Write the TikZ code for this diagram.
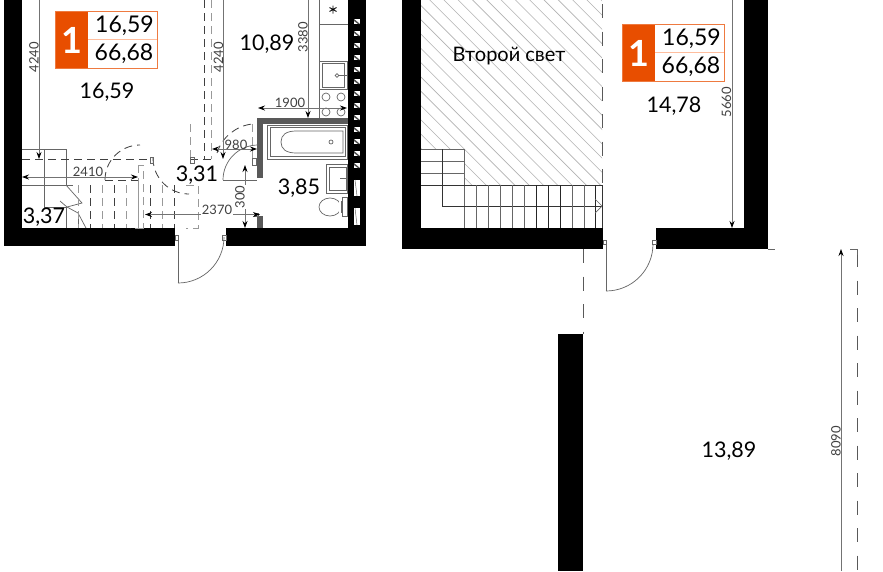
\documentclass[tikz,border=0pt]{standalone}
\usepackage{fontspec}
\setmainfont{Lato}
\usetikzlibrary{arrows.meta}
\definecolor{accent}{HTML}{E84E00}
\definecolor{accentlight}{HTML}{FFBE9E}
\tikzset{
 x=1pt,y=-1pt,
 wall/.style={fill=black,draw=none},
 grayw/.style={fill=black!65,draw=none},
 thin line/.style={draw=black!60,line width=.7pt},
 dark line/.style={draw=black!80,line width=.7pt},
 dim/.style={draw=black!55,line width=.8pt},
 dimhead/.style={-{Stealth[length=7pt,width=5pt,black]}},
 dimheads/.style={{Stealth[length=7pt,width=5pt,black]}-{Stealth[length=7pt,width=5pt,black]}},
 dimlabel/.style={font=\fontsize{13}{14}\selectfont,text=black!75,inner sep=0pt},
 area/.style={font=\fontsize{21.5}{22}\selectfont,inner sep=0pt},
 badgetext/.style={font=\fontsize{23}{24}\selectfont,inner sep=0pt},
 hidden/.style={draw=black!75,line width=.8pt,dash pattern=on 8pt off 5pt},
 hiddengray/.style={draw=black!40,line width=.8pt,dash pattern=on 8pt off 5pt},
 longdash/.style={draw=black!65,line width=.9pt,dash pattern=on 14pt off 13.5pt},
 hatch/.style={draw=black!30,line width=.6pt},
}
\newcommand{\badge}[5]{%
 \fill[accent] (#1,#2) rectangle (#1+33,#2+57);
 \draw[accent!75!white,line width=.9pt] (#1,#2) rectangle (#1+102,#2+57);
 \draw[accentlight,line width=.9pt] (#1+33,#2+28) -- (#1+102,#2+28);
 \node[font=\fontsize{36}{37}\fontseries{b}\selectfont,text=white,inner sep=0pt] (#3a) at (#1+16.5,#2+29) {1};
 \node[badgetext] (#3b) at (#1+69.5,#2+14.5) {#4};
 \node[badgetext] (#3c) at (#1+69,#2+42.5) {#5};
}
\begin{document}
\begin{tikzpicture}
\useasboundingbox (0,0) rectangle (883,571);
\fill[white] (0,0) rectangle (883,571);

%%%% LEFT PLAN
% walls
\fill[wall] (4,0) rectangle (22,246);
\fill[wall] (4,228) rectangle (175,246);
\fill[wall] (225.7,228) rectangle (366,246);
\fill[wall] (348,0) rectangle (366,246);
\fill[grayw] (257.3,118) rectangle (348,124);
\fill[grayw] (257.3,118) rectangle (262.7,178);
\fill[grayw] (257.3,216) rectangle (262.7,228);
% window slots
\foreach \y in {19,31,...,163}{
 \fill[white] (354,\y) rectangle (360,\y+5);
 \fill[black!70] (354,\y) -- (354,\y+2) -- (358,\y+5) -- (360,\y+5) -- cycle;
}
\fill[white] (354,180) rectangle (360,196);
\fill[white] (354,208) rectangle (360,225);
\draw[black!60,line width=.5pt] (355,180) -- (357,196) (355,208) -- (357,225);
% kitchen
\draw[thin line] (319,0) -- (319,118);
\draw[thin line] (319,24) -- (348,24);
\draw[black,line width=.9pt] (333,5.5) -- (333,13.5) (329.5,7.5) -- (336.5,11.5) (329.5,11.5) -- (336.5,7.5);
\draw[thin line] (319,61) rectangle (347,89);
\draw[thin line] (322,63) rectangle (344,87);
\draw[thin line] (337,75.5) circle (1.8);
\draw[thin line] (339,75.5) -- (347,75.5);
\foreach \x/\y in {326/97,341/97,326/112,341/112}{
 \draw[thin line] (\x,\y) circle (4);
}
% bath
\draw[thin line] (267,125) rectangle (347,159);
\draw[thin line] (270,127.5) rectangle (345,156.5);
\draw[thin line] (343,131) -- (296,131) .. controls (286,131) and (281,135) .. (281,142) .. controls (281,149) and (286,153) .. (296,153) -- (343,153) -- cycle;
\draw[thin line] (331,142) circle (2);
% sink
\draw[thin line] (326,164) rectangle (347,193);
\draw[thin line] (329,167) rectangle (346,190);
\draw[thin line] (340,178) -- (347,178);
% toilet
\draw[thin line] (330,207) ellipse (11 and 9);
\fill[white] (339,197) rectangle (342,217);
\draw[thin line] (341,201) -- (341,213);
\draw[thin line] (342,197) rectangle (347,216);
% stair
\draw[thin line] (22,149) -- (66,149) -- (66,186);
\draw[thin line] (44,149) -- (44,207) -- (66,207);
\draw[thin line] (22,185) -- (73,185);
\draw[thin line] (66,207) -- (66,228);
\draw[thin line] (66,185) -- (82,203) -- (67,207);
\draw[thin line] (60,201) -- (67,207) -- (78,213) -- (86,228);
\draw[thin line] (78,214) -- (78,228);
\foreach \x/\s in {78.3/hiddengray,90/hidden,102.3/hiddengray,114.3/hidden,126.3/hiddengray,138.3/hiddengray,150.3/hidden,162.3/hiddengray,174.3/hidden}{
 \draw[\s] (\x,185) -- (\x,228);
}
\draw[hidden] (22,159) -- (150,159);
\draw[hidden] (190,159) -- (212,159);
% dashed partitions
\draw[hidden] (204,0) -- (204,159);
\draw[hiddengray] (211,0) -- (211,159);
\draw[hidden] (105,180) -- (138,180);
\draw[hidden] (105,180) arc[start angle=180,end angle=270,radius=35];
\draw[hiddengray] (138,165) rectangle (143,228);
\draw[hiddengray] (143,228) -- (130,228);
\draw[hidden] (153,158) arc[start angle=180,end angle=90,radius=36];
\draw[hiddengray] (190,124) -- (190,158);
\draw[hidden] (217,153) .. controls (222,137) and (236,126) .. (252,124);
\draw[hiddengray] (252,124) -- (252,159);
\draw[thin line] (150,157) rectangle (153,163);
\draw[thin line] (190,157) rectangle (194,163);
\draw[thin line] (252,158) rectangle (256,165);
\draw[hiddengray] (186,185) -- (198,185) -- (198,228) -- (186,228);
% bath door
\draw[thin line] (223,180) -- (257,180);
\draw[thin line] (223,180) arc[start angle=180,end angle=270,radius=35];
\draw[thin line] (254,213) rectangle (258,216);
% entrance door
\draw[thin line] (175,235) rectangle (178,240);
\draw[thin line] (178,237) -- (178,283);
\draw[thin line] (178,283) arc[start angle=90,end angle=0,radius=46];
\draw[thin line] (222,235) rectangle (226,240);
% dims
\draw[dim,dimhead] (39,0) -- (39,159);
\node[dimlabel,rotate=90] (d4240a) at (34,57) {4240};
\draw[dim,dimhead] (223,0) -- (223,159);
\node[dimlabel,rotate=90] (d4240b) at (218.5,57) {4240};
\draw[dim,dimhead] (308,0) -- (308,118);
\node[dimlabel,rotate=90] (d3380) at (303,37) {3380};
\draw[dim,dimheads] (258,108) -- (347,108);
\node[dimlabel] (d1900) at (290,103) {1900};
\draw[dim,dimheads] (22,177) -- (138,177);
\node[dimlabel] (d2410) at (88,172) {2410};
\draw[dim,dimheads] (212,149) -- (257,149);
\node[dimlabel] (d980) at (236,144.5) {980};
\draw[dim,dimheads] (245,165) -- (245,228);
\node[dimlabel,rotate=90,fill=white,inner sep=1pt] (d300) at (240,197) {300};
\draw[dim,dimheads] (145,214.5) -- (260,214.5);
\node[dimlabel,fill=white,inner sep=1pt] (d2370) at (217,210) {2370};
% areas
\node[area] (a1) at (107,92) {16,59};
\node[area] (a2) at (267,44) {10,89};
\node[area] (a3) at (197,175) {3,31};
\node[area] (a4) at (299,188) {3,85};
\node[area] (a5) at (44,217) {3,37};
\badge{55}{11}{bl}{16,59}{66,68}

%%%% RIGHT PLAN
\begin{scope}
 \clip (421,0) -- (602,0) -- (602,185) -- (464,185) -- (464,149) -- (421,149) -- cycle;
 \foreach \k in {-3,...,22}{
  \draw[hatch] ({301+14.3*\k-60},-60) -- ({301+14.3*\k+260},260);
 }
\end{scope}
\fill[wall] (402,0) rectangle (421,249);
\fill[wall] (402,228) rectangle (603,249);
\fill[wall] (656,228) rectangle (768,249);
\fill[wall] (744,0) rectangle (768,249);
\draw[thin line] (768,249) -- (775,249);
% stair
\draw[thin line] (421,149) -- (464,149) -- (464,228);
\draw[thin line] (421,161) -- (464,161) (421,173) -- (464,173);
\draw[dark line] (421,185) -- (602,185);
\draw[dark line] (442,149) -- (442,206) -- (602,206);
\foreach \x/\c in {476/60,488/60,500/60,512/60,524/60,536/85,548/85,560/85,572/60,584/60,595.5/85}{
 \draw[draw=black!\c,line width=.7pt] (\x,185) -- (\x,228);
}
\draw[thin line] (595,199) -- (602,206) -- (595,213);
\draw[dark line] (602,185) -- (602,228);
\draw[longdash] (602,4) -- (602,185);
% door
\draw[thin line] (603,240) rectangle (606.5,244);
\draw[thin line] (652,240) rectangle (656,244);
\draw[thin line] (606,244) -- (606,291);
\draw[thin line] (606,291) arc[start angle=90,end angle=0,radius=47];
% lower
\draw[longdash] (583,249) -- (583,334);
\fill[wall] (558,334) rectangle (583,571);
\draw[longdash,dash phase=-4pt] (857,249) -- (857,571);
\draw[thin line] (850,249) -- (857,249) -- (857,255);
% dims
\draw[dim,dimhead] (732,0) -- (732,228);
\node[dimlabel,rotate=90] (d5660) at (726.5,102) {5660};
\draw[dim,dimhead] (841,571) -- (841,249);
\node[dimlabel,rotate=90] (d8090) at (836,441) {8090};
% text
\node[font=\fontsize{20}{21}\selectfont,inner sep=0pt] (light) at (509,56) {Второй свет};
\node[area] (a6) at (674,106) {14,78};
\node[area] (a7) at (729,451) {13,89};
\badge{622}{24}{br}{16,59}{66,68}
\end{tikzpicture}
\end{document}
